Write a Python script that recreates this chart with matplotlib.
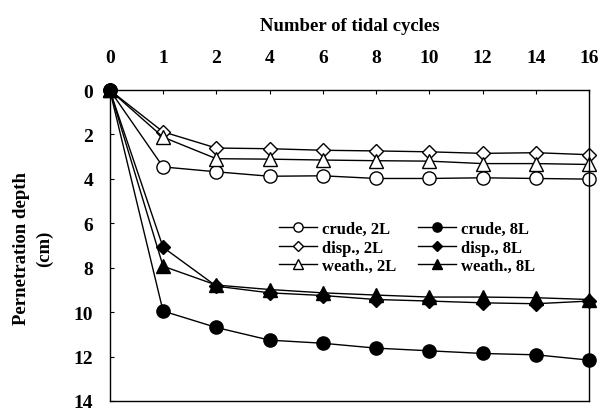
import matplotlib
matplotlib.use("Agg")
import matplotlib.pyplot as plt

cycles = ["0", "1", "2", "4", "6", "8", "10", "12", "14", "16"]
crude_2L = [0, 3.46, 3.68, 3.88, 3.86, 3.98, 3.98, 3.95, 3.98, 4.01]
disp_2L = [0, 1.88, 2.61, 2.64, 2.71, 2.74, 2.78, 2.85, 2.82, 2.91]
weath_2L = [0, 2.12, 3.09, 3.11, 3.15, 3.18, 3.20, 3.31, 3.31, 3.35]
crude_8L = [0, 9.95, 10.69, 11.26, 11.40, 11.62, 11.74, 11.86, 11.92, 12.16]
disp_8L = [0, 7.08, 8.83, 9.13, 9.25, 9.43, 9.50, 9.58, 9.62, 9.50]
weath_8L = [0, 7.93, 8.78, 8.98, 9.13, 9.23, 9.32, 9.32, 9.35, 9.43]
yticks = [0, 2, 4, 6, 8, 10, 12, 14]

plt.rcParams['font.family'] = ['Liberation Serif', 'DejaVu Serif']
plt.rcParams['font.weight'] = 'bold'

fig = plt.figure(figsize=(6.0, 4.14), dpi=100)
ax = fig.add_axes([0.183, 0.029, 0.799, 0.751])

x = list(range(len(cycles)))
series = [
    (crude_2L, 'o', 'white', 'crude, 2L', 9.5),
    (crude_8L, 'o', 'black', 'crude, 8L', 9.5),
    (disp_2L, 'D', 'white', 'disp., 2L', 7),
    (disp_8L, 'D', 'black', 'disp., 8L', 7),
    (weath_2L, '^', 'white', 'weath., 2L', 9.5),
    (weath_8L, '^', 'black', 'weath., 8L', 9.5),
]
handles = {}
for vals, m, fc, lab, ms in series:
    h, = ax.plot(x, vals, color='black', lw=1.0, marker=m, markersize=ms,
                 markerfacecolor=fc, markeredgecolor='black', markeredgewidth=1.0,
                 label=lab, clip_on=False)
    handles[lab] = h

ax.set_xlim(0, len(cycles) - 1)
ax.set_ylim(14, 0)
ax.xaxis.tick_top()
ax.xaxis.set_label_position('top')
ax.set_xticks(x)
ax.set_xticklabels(cycles)
ax.set_yticks(yticks)
ax.set_yticklabels([str(v) for v in yticks])
ax.tick_params(axis='x', direction='in', length=3, pad=17, labelsize=14, top=True, bottom=False)
ax.tick_params(axis='y', direction='in', length=3, pad=12, labelsize=14)
for lbl in ax.get_xticklabels() + ax.get_yticklabels():
    lbl.set_fontweight('bold')
ax.set_xlabel('Number of tidal cycles', fontsize=13.5, fontweight='bold', labelpad=14)
fig.text(0.055, 0.40, 'Pernetration depth\n(cm)', rotation=90, fontsize=13.5,
         fontweight='bold', ha='center', va='center', linespacing=1.5,
         multialignment='center')
for s in ax.spines.values():
    s.set_linewidth(1.0)

order = ['crude, 2L', 'disp., 2L', 'weath., 2L', 'crude, 8L', 'disp., 8L', 'weath., 8L']
leg = ax.legend([handles[k] for k in order], order, ncol=2, frameon=False,
                loc='upper left', bbox_to_anchor=(0.335, 0.605),
                prop={'family': 'Liberation Serif', 'weight': 'bold', 'size': 12},
                handlelength=2.3, handletextpad=0.3, columnspacing=1.3,
                labelspacing=0.15, borderpad=0, markerscale=0.7)

fig.savefig('out.png', dpi=100)
